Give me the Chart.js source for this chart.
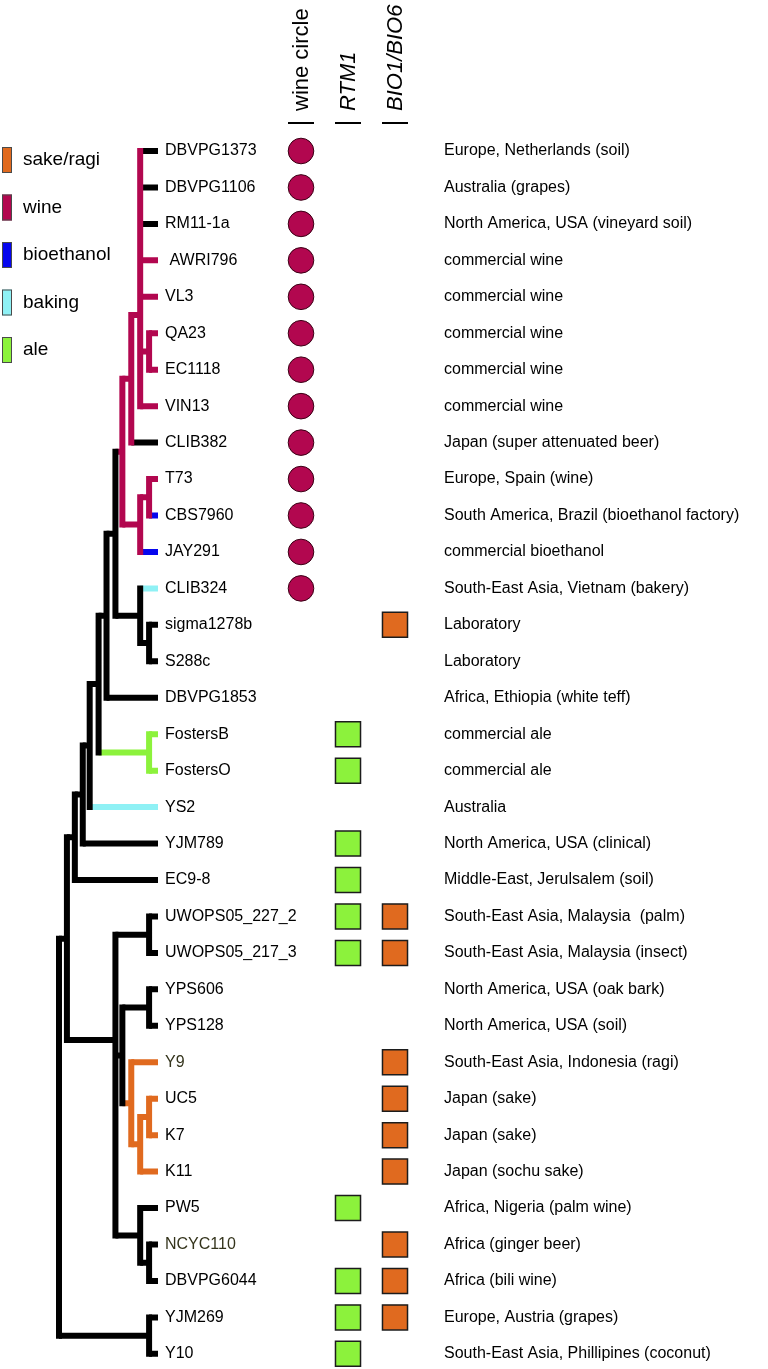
<!DOCTYPE html>
<html>
<head>
<meta charset="utf-8">
<script src="https://cdn.jsdelivr.net/npm/chart.js@4.4.1/dist/chart.umd.min.js"></script>
<style>
  html, body { margin: 0; padding: 0; background: #ffffff; }
  canvas { display: block; }
</style>
</head>
<body>
<canvas id="tree" width="768" height="1369"></canvas>
<script>
// Leaves of the tree, top to bottom
const strains = [
    'DBVPG1373', 'DBVPG1106', 'RM11-1a', 'AWRI796', 'VL3', 'QA23', 'EC1118', 'VIN13',
    'CLIB382', 'T73', 'CBS7960', 'JAY291', 'CLIB324', 'sigma1278b', 'S288c', 'DBVPG1853',
    'FostersB', 'FostersO', 'YS2', 'YJM789', 'EC9-8', 'UWOPS05_227_2', 'UWOPS05_217_3',
    'YPS606', 'YPS128', 'Y9', 'UC5', 'K7', 'K11', 'PW5', 'NCYC110', 'DBVPG6044', 'YJM269', 'Y10'
];

const origins = [
    'Europe, Netherlands (soil)', 'Australia (grapes)', 'North America, USA (vineyard soil)',
    'commercial wine', 'commercial wine', 'commercial wine', 'commercial wine', 'commercial wine',
    'Japan (super attenuated beer)', 'Europe, Spain (wine)', 'South America, Brazil (bioethanol factory)',
    'commercial bioethanol', 'South-East Asia, Vietnam (bakery)', 'Laboratory', 'Laboratory',
    'Africa, Ethiopia (white teff)', 'commercial ale', 'commercial ale', 'Australia',
    'North America, USA (clinical)', 'Middle-East, Jerulsalem (soil)',
    'South-East Asia, Malaysia  (palm)', 'South-East Asia, Malaysia (insect)',
    'North America, USA (oak bark)', 'North America, USA (soil)', 'South-East Asia, Indonesia (ragi)',
    'Japan (sake)', 'Japan (sake)', 'Japan (sochu sake)', 'Africa, Nigeria (palm wine)',
    'Africa (ginger beer)', 'Africa (bili wine)', 'Europe, Austria (grapes)',
    'South-East Asia, Phillipines (coconut)'
];

// Group of each terminal branch
const leafGroups = [
    'none', 'none', 'none', 'wine', 'wine', 'wine', 'wine', 'wine',
    'none', 'wine', 'bioethanol', 'bioethanol', 'baking', 'none', 'none', 'none',
    'ale', 'ale', 'baking', 'none', 'none', 'none', 'none',
    'none', 'none', 'sake', 'sake', 'sake', 'sake', 'none', 'none', 'none', 'none', 'none'
];

// Internal nodes: depth from root (leaf tips at 100), children, group
const tipDepth = 100;
const nodeNames = ['A1', 'QE', 'A2', 'B', 'D', 'C', 'F', 'H', 'G', 'E', 'I', 'K', 'J', 'L', 'M', 'N',
    'Q', 'W', 'Z', 'Y', 'X', 'V', 'U', 'T', 'P1', 'P', 'O', 'S', 'root'];
const nodeDepths = [82, 91, 82, 73, 91, 82, 64, 91, 82, 57, 48, 91, 40, 31, 24, 16,
    91, 91, 91, 82, 73, 64, 91, 82, 57, 57, 8, 91, 0];
const nodeChildren = [
    ['DBVPG1373', 'DBVPG1106', 'RM11-1a', 'AWRI796', 'VL3'],
    ['QA23', 'EC1118'],
    ['A1', 'QE', 'VIN13'],
    ['A2', 'CLIB382'],
    ['T73', 'CBS7960'],
    ['D', 'JAY291'],
    ['B', 'C'],
    ['sigma1278b', 'S288c'],
    ['CLIB324', 'H'],
    ['F', 'G'],
    ['E', 'DBVPG1853'],
    ['FostersB', 'FostersO'],
    ['I', 'K'],
    ['J', 'YS2'],
    ['L', 'YJM789'],
    ['M', 'EC9-8'],
    ['UWOPS05_227_2', 'UWOPS05_217_3'],
    ['YPS606', 'YPS128'],
    ['UC5', 'K7'],
    ['Z', 'K11'],
    ['Y9', 'Y'],
    ['W', 'X'],
    ['NCYC110', 'DBVPG6044'],
    ['PW5', 'U'],
    ['V', 'T'],
    ['Q', 'P1'],
    ['N', 'P'],
    ['YJM269', 'Y10'],
    ['O', 'S']
];
const nodeGroups = ['wine', 'wine', 'wine', 'wine', 'wine', 'wine', 'wine', 'none', 'none', 'none',
    'none', 'ale', 'none', 'none', 'none', 'none', 'none', 'none', 'sake', 'sake', 'sake', 'none',
    'none', 'none', 'none', 'none', 'none', 'none', 'none'];

// Trait columns
const traitColumns = ['wine circle', 'RTM1', 'BIO1/BIO6'];
const wineCircle = ['DBVPG1373', 'DBVPG1106', 'RM11-1a', 'AWRI796', 'VL3', 'QA23', 'EC1118',
    'VIN13', 'CLIB382', 'T73', 'CBS7960', 'JAY291', 'CLIB324'];
const rtm1 = ['FostersB', 'FostersO', 'YJM789', 'EC9-8', 'UWOPS05_227_2', 'UWOPS05_217_3',
    'PW5', 'DBVPG6044', 'YJM269', 'Y10'];
const bio16 = ['sigma1278b', 'UWOPS05_227_2', 'UWOPS05_217_3', 'Y9', 'UC5', 'K7', 'K11',
    'NCYC110', 'DBVPG6044', 'YJM269'];

// Legend entries
const legendLabels = ['sake/ragi', 'wine', 'bioethanol', 'baking', 'ale'];
const legendKeys = ['sake', 'wine', 'bioethanol', 'baking', 'ale'];

// Styles
const groupColors = {
    none: '#000000',
    wine: '#b2074f',
    bioethanol: '#0606ee',
    baking: '#8ff1f5',
    ale: '#8cf23c',
    sake: '#e06a1f'
};
const FONT = '"Liberation Sans", Arial, Helvetica, sans-serif';
const W = 768, H = 1369;
const ROW0 = 151, ROW_H = 36.45;      // pixel of first row, row spacing
const TREE_X0 = 59, DEPTH_PX = 0.99;  // root pixel, pixels per depth unit
const COL_X0 = 301, COL_STEP = 47;    // first trait column, column spacing
const DESC_X = 444;
const oliveLabels = ['Y9', 'NCYC110'];

// Build tree lookups
const depthOf = {}, childrenOf = {}, groupOf = {}, parentOf = {}, rowOf = {};
strains.forEach((s, i) => { depthOf[s] = tipDepth; groupOf[s] = leafGroups[i]; rowOf[s] = i; });
nodeNames.forEach((n, i) => {
    depthOf[n] = nodeDepths[i];
    childrenOf[n] = nodeChildren[i];
    groupOf[n] = nodeGroups[i];
    nodeChildren[i].forEach(c => { parentOf[c] = n; });
});

function nodeRow(n) {
    if (rowOf[n] === undefined) {
        const ch = childrenOf[n];
        rowOf[n] = (nodeRow(ch[0]) + nodeRow(ch[ch.length - 1])) / 2;
    }
    return rowOf[n];
}

// Collect branch segments per colour
const stemPts = {}, vertPts = {};
Object.keys(groupColors).forEach(g => { stemPts[g] = []; vertPts[g] = []; });
strains.concat(nodeNames).forEach(n => {
    const p = parentOf[n];
    if (p) {
        stemPts[groupOf[n]].push({ x: depthOf[p], y: nodeRow(n) }, { x: depthOf[n], y: nodeRow(n) }, { x: null, y: null });
    }
    const ch = childrenOf[n];
    if (ch) {
        vertPts[groupOf[n]].push({ x: depthOf[n], y: nodeRow(ch[0]) }, { x: depthOf[n], y: nodeRow(ch[ch.length - 1]) }, { x: null, y: null });
    }
});

const datasets = [];

// Trait markers
function traitPoints(list, col) {
    return list.map(name => ({ x: col, y: rowOf[name] }));
}
datasets.push({
    label: traitColumns[0], xAxisID: 'xc', data: traitPoints(wineCircle, 0),
    pointStyle: 'circle', pointRadius: 12.8, backgroundColor: groupColors.wine,
    borderColor: '#3a0015', borderWidth: 1, order: 0
});
datasets.push({
    label: traitColumns[1], xAxisID: 'xc', data: traitPoints(rtm1, 1),
    pointStyle: 'rect', pointRadius: 17.7, backgroundColor: groupColors.ale,
    borderColor: '#1c1c1c', borderWidth: 1.5, order: 0
});
datasets.push({
    label: traitColumns[2], xAxisID: 'xc', data: traitPoints(bio16, 2),
    pointStyle: 'rect', pointRadius: 17.7, backgroundColor: groupColors.sake,
    borderColor: '#1c1c1c', borderWidth: 1.5, order: 0
});

// Vertical lines on top of horizontal stems
Object.keys(groupColors).forEach(g => {
    if (vertPts[g].length) {
        datasets.push({
            label: 'v-' + g, xAxisID: 'x', data: vertPts[g], showLine: true, spanGaps: false,
            borderColor: groupColors[g], borderWidth: 6, borderCapStyle: 'square',
            pointRadius: 0, fill: false, tension: 0, order: 1
        });
    }
    if (stemPts[g].length) {
        datasets.push({
            label: 's-' + g, xAxisID: 'x', data: stemPts[g], showLine: true, spanGaps: false,
            borderColor: groupColors[g], borderWidth: 6, borderCapStyle: 'butt',
            pointRadius: 0, fill: false, tension: 0, order: 2
        });
    }
});

// Labels, origins, column headers and legend
const textPlugin = {
    id: 'treeText',
    afterDraw(chart) {
        const ctx = chart.ctx;
        const xs = chart.scales.x, xc = chart.scales.xc, ys = chart.scales.y;
        ctx.save();
        ctx.textBaseline = 'middle';
        ctx.textAlign = 'left';

        // leaf names
        ctx.font = '16px ' + FONT;
        const labelX = xs.getPixelForValue(tipDepth) + 7;
        strains.forEach((s, i) => {
            ctx.fillStyle = oliveLabels.includes(s) ? '#34341c' : '#000000';
            const txt = s === 'AWRI796' ? ' ' + s : s;
            ctx.fillText(txt, labelX, ys.getPixelForValue(i));
        });

        // origins
        ctx.fillStyle = '#000000';
        origins.forEach((o, i) => {
            ctx.fillText(o, DESC_X, ys.getPixelForValue(i));
        });

        // column headers
        traitColumns.forEach((t, i) => {
            const cx = xc.getPixelForValue(i);
            ctx.strokeStyle = '#000000';
            ctx.lineWidth = 2;
            ctx.beginPath();
            ctx.moveTo(cx - 13, 123);
            ctx.lineTo(cx + 13, 123);
            ctx.stroke();
            ctx.save();
            ctx.translate(cx + 1, 111);
            ctx.rotate(-Math.PI / 2);
            ctx.font = (i === 0 ? '' : 'italic ') + '22px ' + FONT;
            ctx.fillStyle = '#000000';
            ctx.fillText(t, 0, 0);
            ctx.restore();
        });

        // legend
        ctx.font = '19px ' + FONT;
        legendLabels.forEach((l, i) => {
            const cy = 160 + i * 47.5;
            ctx.fillStyle = groupColors[legendKeys[i]];
            ctx.fillRect(2, cy - 13, 10, 26);
            ctx.strokeStyle = '#4a4a4a';
            ctx.lineWidth = 1;
            ctx.strokeRect(2.5, cy - 12.5, 9, 25);
            ctx.fillStyle = '#000000';
            ctx.fillText(l, 23, cy);
        });
        ctx.restore();
    }
};

new Chart(document.getElementById('tree'), {
    type: 'scatter',
    data: { datasets: datasets },
    options: {
        responsive: false,
        animation: false,
        devicePixelRatio: 1,
        events: [],
        layout: { padding: 0, autoPadding: false },
        plugins: {
            legend: { display: false },
            tooltip: { enabled: false }
        },
        scales: {
            x: {
                type: 'linear', display: false, bounds: 'data',
                min: -TREE_X0 / DEPTH_PX, max: (W - TREE_X0) / DEPTH_PX
            },
            xc: {
                type: 'linear', axis: 'x', display: false, bounds: 'data',
                min: -COL_X0 / COL_STEP, max: (W - COL_X0) / COL_STEP
            },
            y: {
                type: 'linear', display: false, reverse: true, bounds: 'data',
                min: -ROW0 / ROW_H, max: (H - ROW0) / ROW_H
            }
        }
    },
    plugins: [textPlugin]
});
</script>
</body>
</html>
